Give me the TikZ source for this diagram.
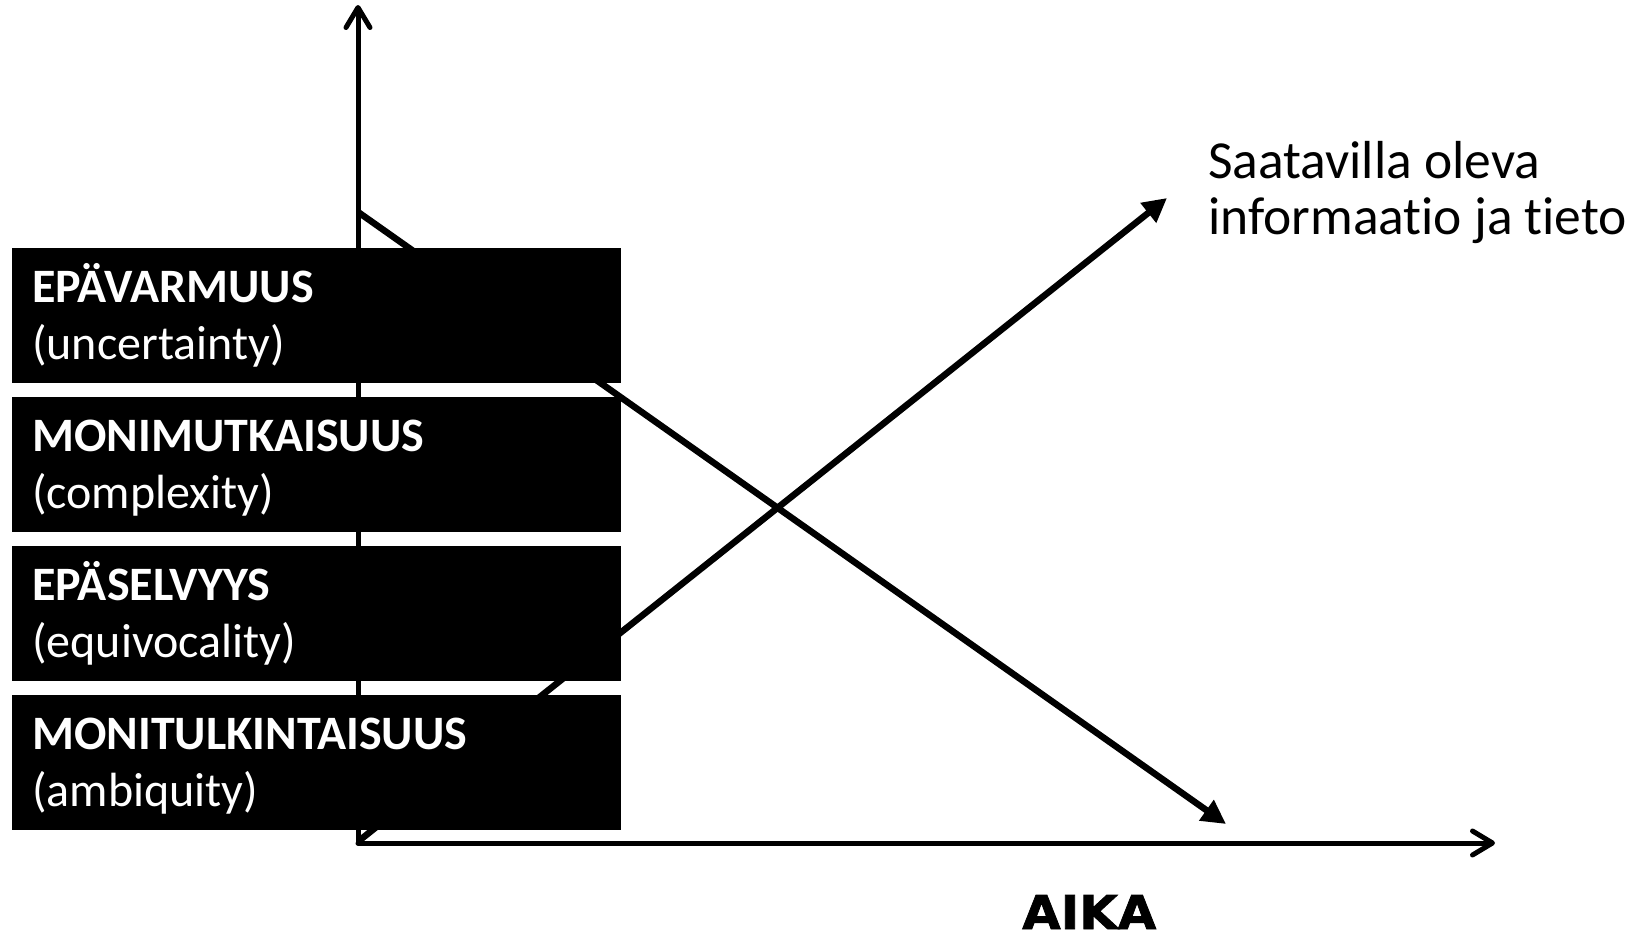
\documentclass[tikz,border=0pt]{standalone}
\usepackage{fontspec}
\setmainfont{Carlito}[Ligatures={NoCommon}]
\newfontfamily\aikafont{DejaVu Sans}[FakeStretch=1.07, BoldFeatures={FakeBold=1.6}]
\usetikzlibrary{arrows.meta}
\tikzset{
  axisline/.style={line width=5pt, line cap=round, line join=round,
    -{Straight Barb[length=20pt, width=24pt, line cap=round, line join=round]}},
  trendline/.style={line width=6.5pt, -{Triangle[length=24pt, width=24pt]}},
  boxnode/.style={fill=black, draw=none, anchor=north west, minimum width=609pt,
    minimum height=135pt, inner sep=0pt},
  titletext/.style={anchor=base west, inner sep=0pt, text=white,
    font=\fontsize{48}{56}\selectfont\bfseries},
  subtext/.style={anchor=base west, inner sep=0pt, text=white,
    font=\fontsize{48}{56}\selectfont},
  infotext/.style={anchor=base west, inner sep=0pt, text=black,
    font=\fontsize{53.5}{56}\selectfont},
  aikatext/.style={anchor=base west, inner sep=0pt, text=black,
    font=\fontsize{46.5}{50}\selectfont\aikafont\bfseries}
}
\begin{document}
\begin{tikzpicture}[x=1pt, y=-1pt]
\useasboundingbox (0,0) rectangle (1635,937);
% coordinates
\coordinate (O) at (358,843);
\coordinate (ytip) at (358,5);
\coordinate (xtip) at (1495,843);
\coordinate (dstart) at (358,212);
\coordinate (dend) at (1226,824);
\coordinate (istart) at (360,840);
\coordinate (iend) at (1167,198);
% axes
\draw[axisline] (O) -- (ytip);
\draw[axisline] (O) -- (xtip);
% trends
\draw[trendline] (dstart) -- (dend);
\draw[trendline] (istart) -- (iend);
% boxes
\node[boxnode] (b1) at (12,248) {};
\node[boxnode] (b2) at (12,397) {};
\node[boxnode] (b3) at (12,546) {};
\node[boxnode] (b4) at (12,695) {};
\node[titletext] (t1) at (32,302) {EPÄVARMUUS};
\node[subtext] (s1) at (32,359) {(uncertainty)};
\node[titletext] (t2) at (32,451) {MONIMUTKAISUUS};
\node[subtext] (s2) at (32,508) {(complexity)};
\node[titletext] (t3) at (32,600) {EPÄSELVYYS};
\node[subtext] (s3) at (32,657) {(equivocality)};
\node[titletext] (t4) at (32,749) {MONITULKINTAISUUS};
\node[subtext] (s4) at (32,806) {(ambiquity)};
% right labels
\node[infotext] (i1) at (1208,178) {Saatavilla oleva};
\node[infotext] (i2) at (1208,234) {informaatio ja tieto};
\node[aikatext] (aika) at (1022,929) {AIKA};
\end{tikzpicture}
\end{document}
